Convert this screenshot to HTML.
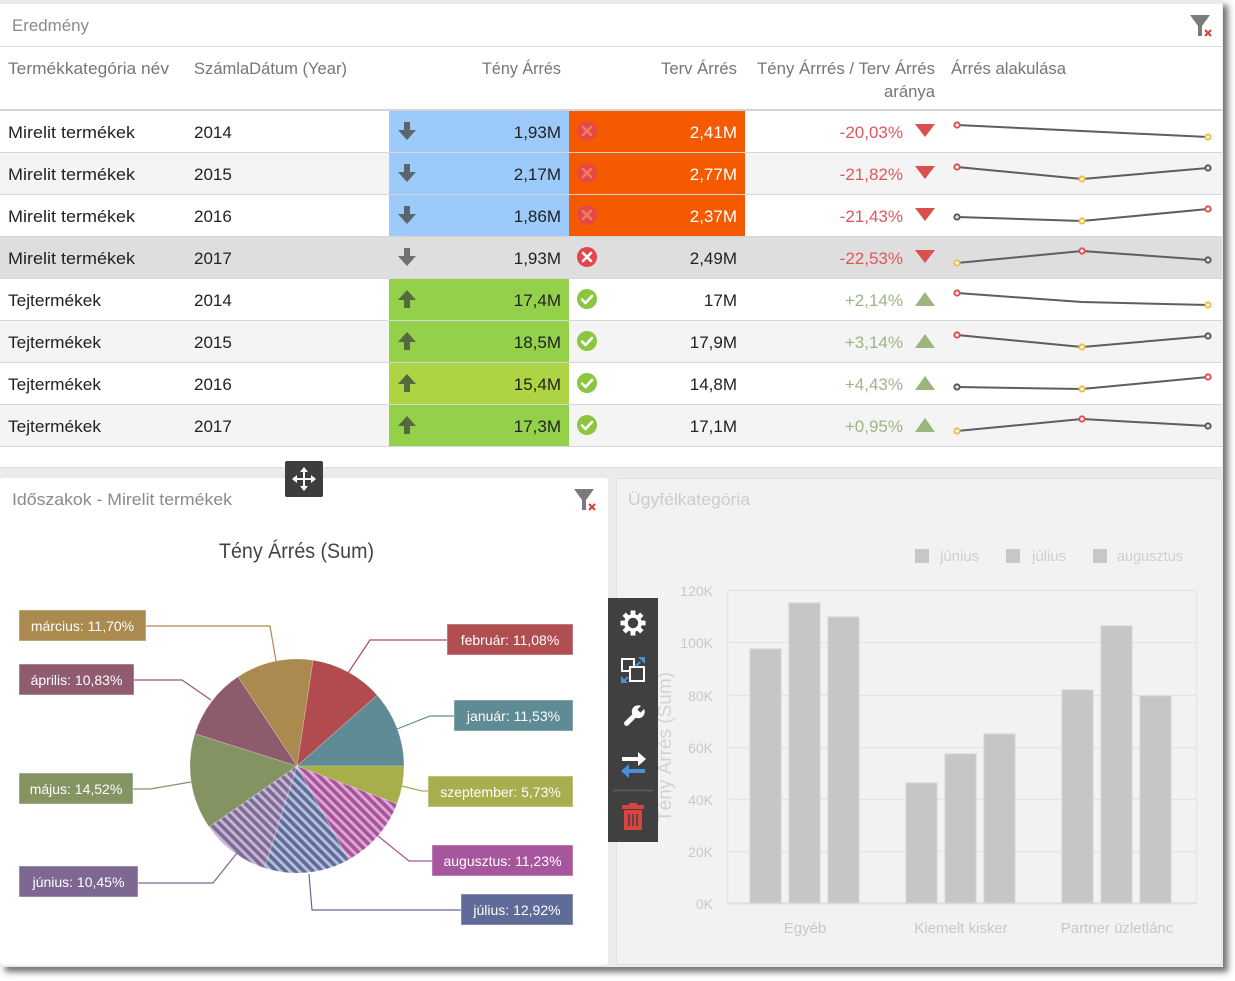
<!DOCTYPE html>
<html><head><meta charset="utf-8">
<style>
html,body{margin:0;padding:0;background:#fff;}
#wrap{position:absolute;left:0;top:0;width:1223px;height:967px;background:#ebebeb;box-shadow:5px 5px 6px rgba(0,0,0,0.55);}
svg{position:absolute;left:0;top:0;}
text{font-family:"Liberation Sans",Arial,sans-serif;}
</style></head>
<body>
<div id="wrap"></div>
<svg width="1235" height="981" viewBox="0 0 1235 981" xmlns="http://www.w3.org/2000/svg">
<defs>
  <pattern id="pJun" width="6.5" height="6.5" patternUnits="userSpaceOnUse" patternTransform="rotate(-45)">
    <rect width="6.5" height="6.5" fill="#c6b8d4"/><rect width="3.6" height="6.5" fill="#7e6a94"/>
  </pattern>
  <pattern id="pJul" width="6.5" height="6.5" patternUnits="userSpaceOnUse" patternTransform="rotate(-45)">
    <rect width="6.5" height="6.5" fill="#b6c0da"/><rect width="3.6" height="6.5" fill="#5f6b98"/>
  </pattern>
  <pattern id="pAug" width="6.5" height="6.5" patternUnits="userSpaceOnUse" patternTransform="rotate(-45)">
    <rect width="6.5" height="6.5" fill="#dba9d2"/><rect width="3.6" height="6.5" fill="#a8529c"/>
  </pattern>
  <g id="aDown"><path d="M-3,-9 h6 v8 h6 l-9,10 l-9,-10 h6 z"/></g>
  <g id="aUp"><path d="M-3,9 h6 v-8 h6 l-9,-10 l-9,10 h6 z"/></g>
  <g id="xc"><circle r="10" fill="#e4474b"/><path d="M-4,-4 L4,4 M4,-4 L-4,4" stroke="#fff" stroke-width="2.6" stroke-linecap="round"/></g>
  <g id="xcf"><circle r="10" fill="#e54a42"/><path d="M-4,-4 L4,4 M4,-4 L-4,4" stroke="#f07a66" stroke-width="2.6" stroke-linecap="round"/></g>
  <g id="ck"><circle r="10" fill="#8cc63f"/><path d="M-5,0.5 L-1.5,4 L5,-3" fill="none" stroke="#fff" stroke-width="2.6" stroke-linecap="round" stroke-linejoin="round"/></g>
  <g id="filt"><path d="M0,0 H20 L12,11 V21 H8 V11 Z" fill="#7a7a7a"/><path d="M15,15 L21,21 M21,15 L15,21" stroke="#e03a3a" stroke-width="2"/></g>
</defs>

<!-- ============ TOP PANEL ============ -->
<rect x="0" y="4" width="1222" height="464" fill="#fff"/>
<line x1="0" y1="467.5" x2="1222" y2="467.5" stroke="#dedede"/>
<text x="12" y="31" font-size="17" fill="#8a8a8a" textLength="77" lengthAdjust="spacingAndGlyphs">Eredmény</text>
<use href="#filt" x="1190" y="15"/>
<line x1="0" y1="46.5" x2="1222" y2="46.5" stroke="#dcdcdc"/>

<g font-size="17" fill="#767676">
  <text x="8" y="74" textLength="161" lengthAdjust="spacingAndGlyphs">Termékkategória név</text>
  <text x="194" y="74" textLength="153" lengthAdjust="spacingAndGlyphs">SzámlaDátum (Year)</text>
  <text x="482" y="74" textLength="79" lengthAdjust="spacingAndGlyphs">Tény Árrés</text>
  <text x="661" y="74" textLength="76" lengthAdjust="spacingAndGlyphs">Terv Árrés</text>
  <text x="757" y="74" textLength="178" lengthAdjust="spacingAndGlyphs">Tény Árrrés / Terv Árrés</text>
  <text x="884" y="97" textLength="51" lengthAdjust="spacingAndGlyphs">aránya</text>
  <text x="951" y="74" textLength="115" lengthAdjust="spacingAndGlyphs">Árrés alakulása</text>
</g>
<rect x="0" y="109" width="1222" height="2" fill="#d4d4d4"/>

<!-- row backgrounds -->
<rect x="0" y="153" width="1222" height="42" fill="#f4f4f4"/>
<rect x="0" y="237" width="1222" height="42" fill="#dedede"/>
<rect x="0" y="321" width="1222" height="42" fill="#f4f4f4"/>
<rect x="0" y="405" width="1222" height="42" fill="#f4f4f4"/>
<!-- colored cells -->
<rect x="389" y="111" width="180" height="42" fill="#9ccbfb"/>
<rect x="389" y="153" width="180" height="42" fill="#9ccbfb"/>
<rect x="389" y="195" width="180" height="42" fill="#9ccbfb"/>
<rect x="569" y="111" width="176" height="42" fill="#f65a00"/>
<rect x="569" y="153" width="176" height="42" fill="#f65a00"/>
<rect x="569" y="195" width="176" height="42" fill="#f65a00"/>
<rect x="389" y="279" width="180" height="42" fill="#93d14a"/>
<rect x="389" y="321" width="180" height="42" fill="#93d14a"/>
<rect x="389" y="363" width="180" height="42" fill="#acd443"/>
<rect x="389" y="405" width="180" height="42" fill="#93d14a"/>
<!-- row lines -->
<g stroke="#d6d6d6" stroke-width="1">
  <line x1="0" y1="152.5" x2="1222" y2="152.5"/>
  <line x1="0" y1="194.5" x2="1222" y2="194.5"/>
  <line x1="0" y1="236.5" x2="1222" y2="236.5"/>
  <line x1="0" y1="278.5" x2="1222" y2="278.5"/>
  <line x1="0" y1="320.5" x2="1222" y2="320.5"/>
  <line x1="0" y1="362.5" x2="1222" y2="362.5"/>
  <line x1="0" y1="404.5" x2="1222" y2="404.5"/>
  <line x1="0" y1="446.5" x2="1222" y2="446.5"/>
</g>

<!-- row text -->
<g font-size="17" fill="#222">
  <text x="8" y="138" textLength="127" lengthAdjust="spacingAndGlyphs">Mirelit termékek</text>
  <text x="8" y="180" textLength="127" lengthAdjust="spacingAndGlyphs">Mirelit termékek</text>
  <text x="8" y="222" textLength="127" lengthAdjust="spacingAndGlyphs">Mirelit termékek</text>
  <text x="8" y="264" textLength="127" lengthAdjust="spacingAndGlyphs">Mirelit termékek</text>
  <text x="8" y="306" textLength="93" lengthAdjust="spacingAndGlyphs">Tejtermékek</text>
  <text x="8" y="348" textLength="93" lengthAdjust="spacingAndGlyphs">Tejtermékek</text>
  <text x="8" y="390" textLength="93" lengthAdjust="spacingAndGlyphs">Tejtermékek</text>
  <text x="8" y="432" textLength="93" lengthAdjust="spacingAndGlyphs">Tejtermékek</text>
  <text x="194" y="138">2014</text>
  <text x="194" y="180">2015</text>
  <text x="194" y="222">2016</text>
  <text x="194" y="264">2017</text>
  <text x="194" y="306">2014</text>
  <text x="194" y="348">2015</text>
  <text x="194" y="390">2016</text>
  <text x="194" y="432">2017</text>
  <g text-anchor="end">
    <text x="561" y="138">1,93M</text>
    <text x="561" y="180">2,17M</text>
    <text x="561" y="222">1,86M</text>
    <text x="561" y="264">1,93M</text>
    <text x="561" y="306">17,4M</text>
    <text x="561" y="348">18,5M</text>
    <text x="561" y="390">15,4M</text>
    <text x="561" y="432">17,3M</text>
    <text x="737" y="138" fill="#fff">2,41M</text>
    <text x="737" y="180" fill="#fff">2,77M</text>
    <text x="737" y="222" fill="#fff">2,37M</text>
    <text x="737" y="264">2,49M</text>
    <text x="737" y="306">17M</text>
    <text x="737" y="348">17,9M</text>
    <text x="737" y="390">14,8M</text>
    <text x="737" y="432">17,1M</text>
    <text x="903" y="138" fill="#e0575b">-20,03%</text>
    <text x="903" y="180" fill="#e0575b">-21,82%</text>
    <text x="903" y="222" fill="#e0575b">-21,43%</text>
    <text x="903" y="264" fill="#e0575b">-22,53%</text>
    <text x="903" y="306" fill="#9db584">+2,14%</text>
    <text x="903" y="348" fill="#9db584">+3,14%</text>
    <text x="903" y="390" fill="#9db584">+4,43%</text>
    <text x="903" y="432" fill="#9db584">+0,95%</text>
  </g>
</g>

<!-- arrows -->
<g fill="#5b6570">
  <use href="#aDown" x="407" y="131"/>
  <use href="#aDown" x="407" y="173"/>
  <use href="#aDown" x="407" y="215"/>
</g>
<use href="#aDown" x="407" y="257" fill="#707070"/>
<g fill="#55693f">
  <use href="#aUp" x="407" y="299"/>
  <use href="#aUp" x="407" y="341"/>
  <use href="#aUp" x="407" y="383"/>
  <use href="#aUp" x="407" y="425"/>
</g>
<!-- x / check icons -->
<use href="#xcf" x="587" y="131"/>
<use href="#xcf" x="587" y="173"/>
<use href="#xcf" x="587" y="215"/>
<use href="#xc" x="587" y="257"/>
<use href="#ck" x="587" y="299"/>
<use href="#ck" x="587" y="341"/>
<use href="#ck" x="587" y="383"/>
<use href="#ck" x="587" y="425"/>
<!-- triangles -->
<g fill="#d9504f">
  <polygon points="915,124 935,124 925,137"/>
  <polygon points="915,166 935,166 925,179"/>
  <polygon points="915,208 935,208 925,221"/>
  <polygon points="915,250 935,250 925,263"/>
</g>
<g fill="#9bb57c">
  <polygon points="915,306 935,306 925,292"/>
  <polygon points="915,348 935,348 925,334"/>
  <polygon points="915,390 935,390 925,376"/>
  <polygon points="915,432 935,432 925,418"/>
</g>

<!-- sparklines -->
<g fill="none" stroke="#5e5e5e" stroke-width="2">
  <polyline points="957,125 1082,131 1208,137"/>
  <polyline points="957,167 1082,179 1208,168"/>
  <polyline points="957,217 1082,221 1208,209"/>
  <polyline points="957,263 1082,251 1208,260"/>
  <polyline points="957,293 1082,302 1208,305"/>
  <polyline points="957,335 1082,347 1208,336"/>
  <polyline points="957,387 1082,389 1208,377"/>
  <polyline points="957,431 1082,419 1208,426"/>
</g>
<g stroke-width="1.8" fill="#fbeaea">
  <circle cx="957" cy="125" r="2.7" stroke="#e24a4a"/>
  <circle cx="1208" cy="137" r="2.7" stroke="#e6c04a" fill="#fbf3dc"/>
  <circle cx="957" cy="167" r="2.7" stroke="#e24a4a"/>
  <circle cx="1082" cy="179" r="2.7" stroke="#e6c04a" fill="#fbf3dc"/>
  <circle cx="1208" cy="168" r="2.7" stroke="#555" fill="#ddd"/>
  <circle cx="957" cy="217" r="2.7" stroke="#555" fill="#ddd"/>
  <circle cx="1082" cy="221" r="2.7" stroke="#e6c04a" fill="#fbf3dc"/>
  <circle cx="1208" cy="209" r="2.7" stroke="#e24a4a"/>
  <circle cx="957" cy="263" r="2.7" stroke="#e6c04a" fill="#fbf3dc"/>
  <circle cx="1082" cy="251" r="2.7" stroke="#e24a4a"/>
  <circle cx="1208" cy="260" r="2.7" stroke="#555" fill="#ddd"/>
  <circle cx="957" cy="293" r="2.7" stroke="#e24a4a"/>
  <circle cx="1208" cy="305" r="2.7" stroke="#e6c04a" fill="#fbf3dc"/>
  <circle cx="957" cy="335" r="2.7" stroke="#e24a4a"/>
  <circle cx="1082" cy="347" r="2.7" stroke="#e6c04a" fill="#fbf3dc"/>
  <circle cx="1208" cy="336" r="2.7" stroke="#555" fill="#ddd"/>
  <circle cx="957" cy="387" r="2.7" stroke="#555" fill="#ddd"/>
  <circle cx="1082" cy="389" r="2.7" stroke="#e6c04a" fill="#fbf3dc"/>
  <circle cx="1208" cy="377" r="2.7" stroke="#e24a4a"/>
  <circle cx="957" cy="431" r="2.7" stroke="#e6c04a" fill="#fbf3dc"/>
  <circle cx="1082" cy="419" r="2.7" stroke="#e24a4a"/>
  <circle cx="1208" cy="426" r="2.7" stroke="#555" fill="#ddd"/>
</g>

<!-- ============ BOTTOM LEFT PANEL ============ -->
<rect x="0" y="478" width="608" height="487" rx="3" fill="#fff"/>
<text x="12" y="505" font-size="17" fill="#8a8a8a" textLength="220" lengthAdjust="spacingAndGlyphs">Időszakok - Mirelit termékek</text>
<use href="#filt" x="574" y="489"/>
<text x="296.5" y="558" font-size="21" fill="#444" text-anchor="middle" textLength="155" lengthAdjust="spacingAndGlyphs">Tény Árrés (Sum)</text>

<!-- pie -->
<g stroke="rgba(255,255,255,0.35)" stroke-width="0.6">
  <path d="M297,766 L404,766 A107,107 0 0 0 377.12,695.08 Z" fill="#5f8b95"/>
  <path d="M297,766 L377.12,695.08 A107,107 0 0 0 313.0,660.2 Z" fill="#b24b50"/>
  <path d="M297,766 L313.0,660.2 A107,107 0 0 0 237.9,676.8 Z" fill="#ab8a4f"/>
  <path d="M297,766 L237.9,676.8 A107,107 0 0 0 194.9,733.8 Z" fill="#8e5a6e"/>
  <path d="M297,766 L194.9,733.8 A107,107 0 0 0 209.1,827.0 Z" fill="#849362"/>
  <path d="M297,766 L209.1,827.0 A107,107 0 0 0 264.6,868.0 Z" fill="url(#pJun)"/>
  <path d="M297,766 L264.6,868.0 A107,107 0 0 0 348.7,859.7 Z" fill="url(#pJul)"/>
  <path d="M297,766 L348.7,859.7 A107,107 0 0 0 397.1,803.7 Z" fill="url(#pAug)"/>
  <path d="M297,766 L397.1,803.7 A107,107 0 0 0 404,766 Z" fill="#a7ae4a"/>
</g>

<!-- connectors -->
<g fill="none" stroke-width="1.2">
  <polyline points="146,626 270,626 276,661" stroke="#ab8a4f"/>
  <polyline points="134,680 182,680 211,700" stroke="#8e5a6e"/>
  <polyline points="133,789 150,789 191,782" stroke="#849362"/>
  <polyline points="138,883 213,883 237,853" stroke="#7e6792"/>
  <polyline points="447,640 370,640 348,673" stroke="#b24b50"/>
  <polyline points="454,716 430,716 397,729" stroke="#5f8b95"/>
  <polyline points="428,791 422,791 402,786" stroke="#a7ae4a"/>
  <polyline points="432,861 409,861 378,836" stroke="#a6569c"/>
  <polyline points="461,910 312,910 309,874" stroke="#5f6b98"/>
</g>
<!-- label boxes -->
<g stroke="rgba(255,255,255,0.45)" stroke-width="1">
  <rect x="19" y="610" width="127" height="31" fill="#ab8a50"/>
  <rect x="19" y="664" width="115" height="31" fill="#8f5b6f"/>
  <rect x="19" y="773" width="114" height="31" fill="#859463"/>
  <rect x="19" y="866" width="119" height="31" fill="#7e6792"/>
  <rect x="447" y="624" width="126" height="31" fill="#b14e52"/>
  <rect x="454" y="700" width="119" height="31" fill="#5f8b95"/>
  <rect x="428" y="776" width="145" height="31" fill="#a7ae4d"/>
  <rect x="432" y="845" width="141" height="31" fill="#a6569c"/>
  <rect x="461" y="894" width="112" height="31" fill="#5f6b98"/>
</g>
<g font-size="14" fill="#fff" text-anchor="middle">
  <text x="82.5" y="631">március: 11,70%</text>
  <text x="76.5" y="685">április: 10,83%</text>
  <text x="76" y="794">május: 14,52%</text>
  <text x="78.5" y="887">június: 10,45%</text>
  <text x="510" y="645">február: 11,08%</text>
  <text x="513.5" y="721">január: 11,53%</text>
  <text x="500.5" y="797">szeptember: 5,73%</text>
  <text x="502.5" y="866">augusztus: 11,23%</text>
  <text x="517" y="915">július: 12,92%</text>
</g>

<!-- ============ BOTTOM RIGHT PANEL ============ -->
<rect x="616.5" y="478.5" width="605" height="486" fill="#f2f2f2" stroke="#e2e2e2"/>
<text x="628" y="505" font-size="17" fill="#cccccc" textLength="122" lengthAdjust="spacingAndGlyphs">Ügyfélkategória</text>
<!-- legend -->
<g fill="#c8c8c8">
  <rect x="915" y="549" width="14" height="14"/>
  <rect x="1006" y="549" width="14" height="14"/>
  <rect x="1093" y="549" width="14" height="14"/>
</g>
<g font-size="15" fill="#cfcfcf">
  <text x="940" y="561">június</text>
  <text x="1032" y="561">július</text>
  <text x="1117" y="561" textLength="66" lengthAdjust="spacingAndGlyphs">augusztus</text>
</g>
<!-- grid -->
<g stroke="#e4e4e4" stroke-width="1.2">
  <line x1="727" y1="590.5" x2="1196" y2="590.5"/>
  <line x1="727" y1="642.5" x2="1196" y2="642.5"/>
  <line x1="727" y1="695.5" x2="1196" y2="695.5"/>
  <line x1="727" y1="747.5" x2="1196" y2="747.5"/>
  <line x1="727" y1="799.5" x2="1196" y2="799.5"/>
  <line x1="727" y1="851.5" x2="1196" y2="851.5"/>
  <line x1="727.5" y1="590" x2="727.5" y2="904"/>
  <line x1="1196.5" y1="590" x2="1196.5" y2="904"/>
</g>
<line x1="727" y1="903.5" x2="1196" y2="903.5" stroke="#dedede" stroke-width="2"/>
<g font-size="14" fill="#c8c8c8" text-anchor="end">
  <text x="713" y="596">120K</text>
  <text x="713" y="648">100K</text>
  <text x="713" y="701">80K</text>
  <text x="713" y="753">60K</text>
  <text x="713" y="805">40K</text>
  <text x="713" y="857">20K</text>
  <text x="713" y="909">0K</text>
</g>
<text transform="translate(671,747) rotate(-90)" font-size="19" fill="#d2d2d2" text-anchor="middle">Tény Árrés (Sum)</text>
<!-- bars -->
<g fill="#c6c6c6" stroke="#d4d4d4" stroke-width="1">
  <rect x="750" y="649" width="31" height="254"/>
  <rect x="789" y="603" width="31" height="300"/>
  <rect x="828" y="617" width="31" height="286"/>
  <rect x="906" y="783" width="31" height="120"/>
  <rect x="945" y="754" width="31" height="149"/>
  <rect x="984" y="734" width="31" height="169"/>
  <rect x="1062" y="690" width="31" height="213"/>
  <rect x="1101" y="626" width="31" height="277"/>
  <rect x="1140" y="696" width="31" height="207"/>
</g>
<g font-size="15" fill="#c8c8c8" text-anchor="middle">
  <text x="805" y="933">Egyéb</text>
  <text x="961" y="933">Kiemelt kisker</text>
  <text x="1117" y="933">Partner üzletlánc</text>
</g>

<!-- ============ TOOLBAR ============ -->
<rect x="608" y="598" width="50" height="244" fill="#404040"/>
<!-- gear -->
<g transform="translate(633,623)" fill="#fff">
  <circle r="7" fill="none" stroke="#fff" stroke-width="3.6"/>
  <rect x="-2.4" y="-12.5" width="4.8" height="5"/>
  <rect x="-2.4" y="7.5" width="4.8" height="5"/>
  <rect x="-12.5" y="-2.4" width="5" height="4.8"/>
  <rect x="7.5" y="-2.4" width="5" height="4.8"/>
  <rect x="-2.4" y="-12.5" width="4.8" height="5" transform="rotate(45)"/>
  <rect x="-2.4" y="7.5" width="4.8" height="5" transform="rotate(45)"/>
  <rect x="-12.5" y="-2.4" width="5" height="4.8" transform="rotate(45)"/>
  <rect x="7.5" y="-2.4" width="5" height="4.8" transform="rotate(45)"/>
</g>
<!-- resize -->
<g fill="none" stroke="#fff" stroke-width="2">
  <rect x="622" y="659" width="12" height="12"/>
  <rect x="630" y="667" width="14" height="14" fill="#404040"/>
</g>
<path d="M638,657 L645,657 L645,664 Z M621,676 L621,683 L628,683 Z" fill="#4a90d9"/>
<path d="M640,662 L636,666 M624,681 L628,677" stroke="#4a90d9" stroke-width="2"/>
<!-- wrench -->
<g transform="translate(634,716) rotate(45)" fill="#fff">
  <rect x="-2.5" y="-2" width="5" height="15" rx="2.5"/>
  <circle cx="0" cy="-6" r="6.5"/>
  <rect x="-2.2" y="-14" width="4.4" height="7" fill="#404040"/>
</g>
<!-- swap arrows -->
<path d="M622,757 H638 V752 L646,759 L638,766 V761 H622 Z" fill="#fff"/>
<path d="M645,769 H629 V764 L621,771 L629,778 V773 H645 Z" fill="#4a90d9"/>
<line x1="613" y1="790.5" x2="653" y2="790.5" stroke="#5c5c5c" stroke-width="1.5"/>
<!-- trash -->
<g fill="#d9443f">
  <rect x="629" y="803" width="8" height="3"/>
  <rect x="622" y="805" width="22" height="4"/>
  <rect x="624" y="810" width="18" height="20"/>
</g>
<g stroke="#404040" stroke-width="1.5">
  <line x1="629" y1="814" x2="629" y2="826"/>
  <line x1="633" y1="814" x2="633" y2="826"/>
  <line x1="637" y1="814" x2="637" y2="826"/>
</g>

<!-- move handle -->
<rect x="285" y="461" width="38" height="36" rx="2" fill="#3d3d3d"/>
<g transform="translate(304,479)" fill="#fff">
  <rect x="-1" y="-8" width="2" height="16"/>
  <rect x="-8" y="-1" width="16" height="2"/>
  <polygon points="0,-12 -4,-7 4,-7"/>
  <polygon points="0,12 -4,7 4,7"/>
  <polygon points="-12,0 -7,-4 -7,4"/>
  <polygon points="12,0 7,-4 7,4"/>
</g>
</svg>
</body></html>
